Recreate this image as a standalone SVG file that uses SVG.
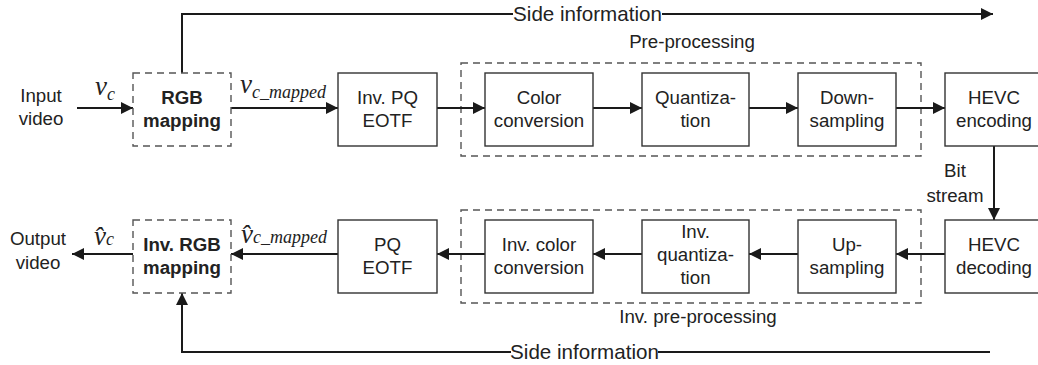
<svg xmlns="http://www.w3.org/2000/svg" width="1038" height="365" viewBox="0 0 1038 365">
  <style>
    .box { fill: #ffffff; stroke: #333333; stroke-width: 1.4; }
    .dash { fill: none; stroke: #555555; stroke-width: 1.4; stroke-dasharray: 7 5; }
    .wire { fill: none; stroke: #1a1a1a; stroke-width: 2; }
    .lbl { font-family: "Liberation Sans", Arial, sans-serif; font-size: 18.7px; fill: #222222; text-anchor: middle; }
    .bold { font-weight: bold; }
    .side { font-family: "Liberation Sans", Arial, sans-serif; font-size: 20.6px; fill: #222222; text-anchor: middle; }
    .math { font-family: "Liberation Serif", "Times New Roman", serif; font-style: italic; fill: #222222; }
  </style>
  <defs>
    <marker id="arrow" markerUnits="userSpaceOnUse" markerWidth="13" markerHeight="12" refX="12" refY="6" orient="auto">
      <path d="M0,0 L12,6 L0,12 Z" fill="#1a1a1a"/>
    </marker>
  </defs>

  <rect width="1038" height="365" fill="#ffffff"/>

  <!-- group frames -->
  <rect id="preproc-frame" class="dash" x="461" y="63" width="460" height="93"/>
  <rect id="invpreproc-frame" class="dash" x="461" y="210" width="460" height="93"/>
  <text class="lbl" x="692" y="48">Pre-processing</text>
  <text class="lbl" x="698" y="323">Inv. pre-processing</text>

  <!-- connectors -->
  <g id="connectors">
    <line class="wire" x1="77" y1="108" x2="133" y2="108" marker-end="url(#arrow)"/>
    <line class="wire" x1="231" y1="108" x2="338" y2="108" marker-end="url(#arrow)"/>
    <line class="wire" x1="437" y1="108" x2="485" y2="108" marker-end="url(#arrow)"/>
    <line class="wire" x1="593" y1="108" x2="642" y2="108" marker-end="url(#arrow)"/>
    <line class="wire" x1="749" y1="108" x2="798" y2="108" marker-end="url(#arrow)"/>
    <line class="wire" x1="896" y1="108" x2="945" y2="108" marker-end="url(#arrow)"/>
    <line class="wire" x1="994" y1="146" x2="994" y2="220" marker-end="url(#arrow)"/>
    <line class="wire" x1="945" y1="254" x2="896" y2="254" marker-end="url(#arrow)"/>
    <line class="wire" x1="798" y1="254" x2="749" y2="254" marker-end="url(#arrow)"/>
    <line class="wire" x1="642" y1="254" x2="593" y2="254" marker-end="url(#arrow)"/>
    <line class="wire" x1="485" y1="254" x2="437" y2="254" marker-end="url(#arrow)"/>
    <line class="wire" x1="338" y1="254" x2="231" y2="254" marker-end="url(#arrow)"/>
    <line class="wire" x1="133" y1="254" x2="72" y2="254" marker-end="url(#arrow)"/>
    <!-- side information, encoder side -->
    <polyline class="wire" points="182,73 182,14 513,14"/>
    <line class="wire" x1="662" y1="14" x2="993" y2="14" marker-end="url(#arrow)"/>
    <text class="side" x="587.5" y="21">Side information</text>
    <!-- side information, decoder side -->
    <line class="wire" x1="990" y1="352" x2="658" y2="352"/>
    <polyline class="wire" points="511,352 182,352 182,293" marker-end="url(#arrow)"/>
    <text class="side" x="584.5" y="359">Side information</text>
    <!-- bit stream label -->
    <text class="lbl" x="955" y="177">Bit</text>
    <text class="lbl" x="955" y="202">stream</text>
  </g>

  <!-- signal labels -->
  <g id="signal-labels">
    <text class="lbl" x="41" y="102">Input</text>
    <text class="lbl" x="41" y="125">video</text>
    <text class="lbl" x="38" y="245">Output</text>
    <text class="lbl" x="38" y="269">video</text>
    <text class="math" x="95" y="95" font-size="27">v<tspan font-size="18" dy="5">c</tspan></text>
    <text class="math" x="240" y="93" font-size="27">v<tspan font-size="18" dy="5">c_mapped</tspan></text>
    <text class="math" x="94" y="245" font-size="27">v̂<tspan font-size="18">c</tspan></text>
    <text class="math" x="241" y="243" font-size="27">v̂<tspan font-size="18">c_mapped</tspan></text>
  </g>

  <!-- encoder row -->
  <g id="rgb-mapping">
    <rect class="dash" x="133" y="73" width="98" height="73"/>
    <text class="lbl bold" x="182" y="104">RGB</text>
    <text class="lbl bold" x="182" y="127">mapping</text>
  </g>
  <g id="inv-pq-eotf">
    <rect class="box" x="338" y="73" width="99" height="73"/>
    <text class="lbl" x="387.5" y="104">Inv. PQ</text>
    <text class="lbl" x="387.5" y="127">EOTF</text>
  </g>
  <g id="color-conversion">
    <rect class="box" x="485" y="73" width="108" height="73"/>
    <text class="lbl" x="539" y="104">Color</text>
    <text class="lbl" x="539" y="127">conversion</text>
  </g>
  <g id="quantization">
    <rect class="box" x="642" y="73" width="107" height="73"/>
    <text class="lbl" x="695.5" y="104">Quantiza-</text>
    <text class="lbl" x="695.5" y="127">tion</text>
  </g>
  <g id="down-sampling">
    <rect class="box" x="798" y="73" width="98" height="73"/>
    <text class="lbl" x="847" y="104">Down-</text>
    <text class="lbl" x="847" y="127">sampling</text>
  </g>
  <g id="hevc-encoding">
    <rect class="box" x="945" y="73" width="98" height="73"/>
    <text class="lbl" x="994" y="104">HEVC</text>
    <text class="lbl" x="994" y="127">encoding</text>
  </g>

  <!-- decoder row -->
  <g id="hevc-decoding">
    <rect class="box" x="945" y="220" width="98" height="73"/>
    <text class="lbl" x="994" y="251">HEVC</text>
    <text class="lbl" x="994" y="274">decoding</text>
  </g>
  <g id="up-sampling">
    <rect class="box" x="798" y="220" width="98" height="73"/>
    <text class="lbl" x="847" y="251">Up-</text>
    <text class="lbl" x="847" y="274">sampling</text>
  </g>
  <g id="inv-quantization">
    <rect class="box" x="642" y="220" width="107" height="73"/>
    <text class="lbl" x="695.5" y="238">Inv.</text>
    <text class="lbl" x="695.5" y="261">quantiza-</text>
    <text class="lbl" x="695.5" y="284">tion</text>
  </g>
  <g id="inv-color-conversion">
    <rect class="box" x="485" y="220" width="108" height="73"/>
    <text class="lbl" x="539" y="251">Inv. color</text>
    <text class="lbl" x="539" y="274">conversion</text>
  </g>
  <g id="pq-eotf">
    <rect class="box" x="338" y="220" width="99" height="73"/>
    <text class="lbl" x="387.5" y="251">PQ</text>
    <text class="lbl" x="387.5" y="274">EOTF</text>
  </g>
  <g id="inv-rgb-mapping">
    <rect class="dash" x="133" y="220" width="98" height="73"/>
    <text class="lbl bold" x="182" y="251">Inv. RGB</text>
    <text class="lbl bold" x="182" y="274">mapping</text>
  </g>
</svg>
